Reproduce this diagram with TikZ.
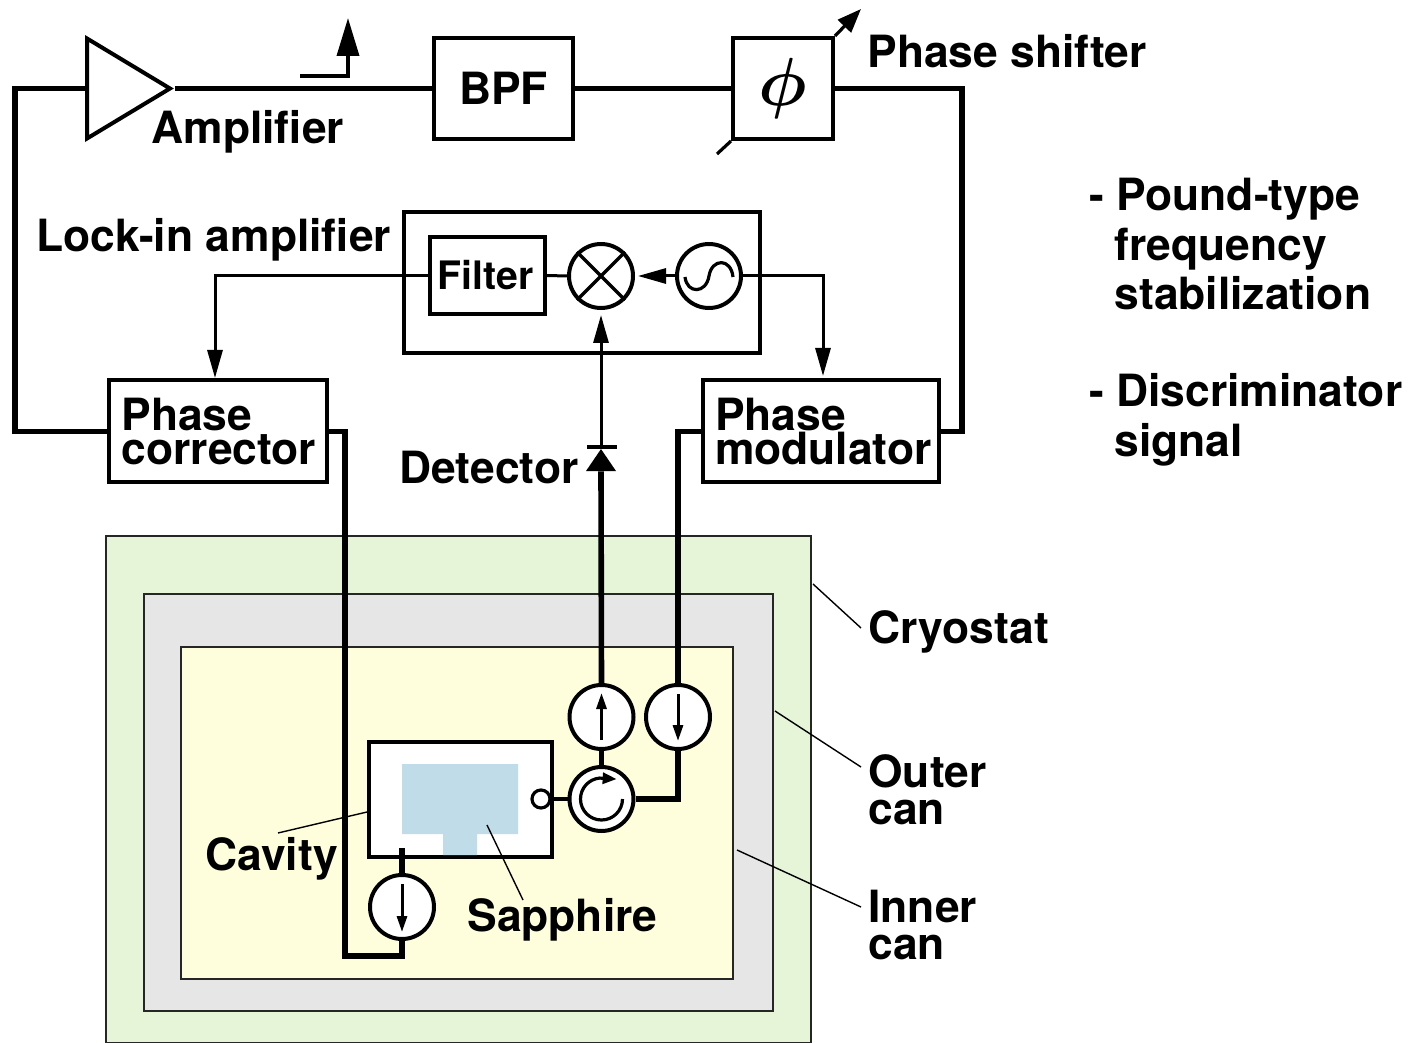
\documentclass[tikz,border=0pt]{standalone}
\usepackage{fix-cm}
\usepackage{fontspec}
\setmainfont{TeX Gyre Heros}[BoldFont=* Bold]
\usetikzlibrary{arrows.meta,calc,shapes.geometric}
\definecolor{clrCryo}{RGB}{230,244,216}
\definecolor{clrOuter}{RGB}{230,230,230}
\definecolor{clrInner}{RGB}{254,253,220}
\definecolor{clrSapph}{RGB}{192,220,232}
\newcommand{\lblfont}{\fontsize{22.2}{17.4}\selectfont\bfseries}
\tikzset{
  canbox/.style={rectangle,draw=black!85,line width=0.8pt,inner sep=0pt},
  unit/.style={rectangle,draw,fill=white,line width=2pt,inner sep=0pt,font=\lblfont},
  twoline/.style={unit,align=left,anchor=center},
  roundel/.style={circle,draw,fill=white,line width=2pt,inner sep=0pt,minimum size=32pt},
  lbl/.style={font=\lblfont,inner sep=0pt,anchor=base west},
  lblcan/.style={font=\fontsize{22.2}{18.6}\selectfont\bfseries,inner sep=0pt,anchor=north west,align=left},
  note/.style={font=\fontsize{22.2}{24.8}\selectfont\bfseries,inner sep=0pt,anchor=north west,align=left},
  rf/.style={line width=2.8pt},
  sig/.style={line width=1.5pt},
  sigarrow/.style={sig,-{Triangle[length=14pt,width=7.5pt]}},
  inarrow/.style={line width=1.5pt,-{Triangle[length=8pt,width=5pt]}},
  leader/.style={line width=0.7pt}
}
\begin{document}
\begin{tikzpicture}[x=0.5pt,y=-0.5pt]
  \useasboundingbox (0,0) rectangle (1410,1043);
  \node[canbox,fill=clrCryo,minimum width=352.5pt,minimum height=253.5pt] (cryo) at (458.5,789.5) {};
  \node[canbox,fill=clrOuter,minimum width=314.5pt,minimum height=208.5pt] (outer) at (458.5,802.5) {};
  \node[canbox,fill=clrInner,minimum width=276pt,minimum height=166pt] (inner) at (457,813) {};

  \node[isosceles triangle,isosceles triangle stretches,draw,fill=white,line width=2pt,inner sep=0pt,
    minimum height=41.5pt,minimum width=50pt,anchor=west] (amp) at (85,88.5) {};
  \node[unit,minimum width=69.5pt,minimum height=50.5pt] (bpf) at (503.5,88.5) {BPF};
  \node[unit,minimum width=50pt,minimum height=50.5pt,font=\fontsize{34}{34}\selectfont\boldmath] (phi) at (783,88.5) {$\phi$};
  \node[unit,minimum width=178pt,minimum height=70.5pt] (lockin) at (582,282.5) {};
  \node[unit,minimum width=57.5pt,minimum height=38.5pt,font=\fontsize{19.6}{20}\selectfont\bfseries] (filter) at (487.5,275.5) {Filter\hspace*{2pt}};
  \node[roundel] (mix) at (601,276) {};
  \node[roundel] (osc) at (709,276) {};
  \node[twoline,text width=96pt,inner xsep=6.5pt,minimum height=51pt] (corr) at (217.5,431.5) {Phase\\corrector};
  \node[twoline,text width=106pt,inner xsep=6pt,minimum height=51pt] (mod) at (821,431.5) {Phase\\modulator};
  \node[isosceles triangle,isosceles triangle stretches,shape border rotate=90,fill=black,inner sep=0pt,
    minimum height=11pt,minimum width=15pt,anchor=apex] (diode) at (601,448) {};
  \coordinate (barL) at (587,447);
  \coordinate (barR) at (617,447);
  \coordinate (corrIn) at (215,380);
  \coordinate (modIn) at (823,380);

  \node[rectangle,draw,fill=white,line width=2pt,minimum width=91.5pt,minimum height=57.5pt,inner sep=0pt] (cavity) at (460.5,799.5) {};
  \fill[clrSapph] (402,764) rectangle (518,834) (443,834) rectangle (477,855);
  \node[circle,draw,fill=white,line width=1.6pt,inner sep=0pt,minimum size=9pt] (port) at (541,799) {};
  \node[roundel] (circ) at (601.5,799) {};
  \node[roundel] (isoup) at (601.5,717) {};
  \node[roundel] (isodn) at (678,717) {};
  \node[roundel] (isolow) at (402,907) {};
  \coordinate (feed) at (402,848);
  \coordinate (loopL) at (15,88.5);
  \coordinate (loopR) at (962,431.5);
  \coordinate (turn) at (345,956);

  \draw[rf] (amp.west) -- (loopL) |- (corr.west);
  \draw[rf] (amp.apex) -- (bpf.west);
  \draw[rf] (bpf.east) -- (phi.west);
  \draw[rf] (phi.east) -| (loopR) -- (mod.east);
  \draw[rf] (corr.east) -| (turn) -| (isolow.south);
  \draw[rf] (feed) -- (isolow.north);
  \draw[rf] (mod.west) -| (isodn.north);
  \draw[rf] (circ.east) -| (isodn.south);
  \draw[rf] (circ.north) -- (isoup.south);
  \draw[rf] (isoup.north) -- (diode.south);
  \draw[line width=2pt] (port.east) -- (circ.west);

  \draw[sig] (filter.east) -- (mix.west);
  \draw[sigarrow,shorten >=1pt] (filter.west) -| (corrIn);
  \draw[sigarrow,shorten >=2pt] (osc.east) -| (modIn);
  \draw[sigarrow,shorten >=1.5pt] (osc.west) -- (mix.east);
  \draw[sigarrow,shorten >=2.5pt] (diode.apex) -- (mix.south);
  \draw[line width=1.8pt] (barL) -- (barR);

  \draw[line width=1.6pt] (mix.north west) -- (mix.south east);
  \draw[line width=1.6pt] (mix.north east) -- (mix.south west);
  \begin{scope}[shift={(osc.center)}]
    \draw[line width=1.6pt] (-24,1) .. controls (-22,18) and (-3,18) .. (0,0)
      .. controls (3,-18) and (22,-18) .. (24,1);
  \end{scope}
  \draw[line width=1.6pt,-{Triangle[length=7pt,width=5.5pt]}] ($(circ.center)+(21,0)$)
    arc[start angle=0,end angle=-265,radius=10.5pt] -- ++(17,1);
  \draw[inarrow] ($(isoup.center)+(0,23)$) -- ($(isoup.center)+(0,-24)$);
  \draw[inarrow] ($(isodn.center)+(0,-23)$) -- ($(isodn.center)+(0,24)$);
  \draw[inarrow] ($(isolow.center)+(0,-23)$) -- ($(isolow.center)+(0,25)$);

  \coordinate (rampS) at (300,76);
  \coordinate (rampC) at (348,76);
  \coordinate (rampE) at (348,18);
  \draw[line width=1.8pt,-{Triangle[length=19pt,width=11pt]}] (rampS) -- (rampC) -- (rampE);
  \coordinate (trimT) at (861,9);
  \coordinate (trimB) at (717,154);
  \draw[line width=1.6pt,-{Triangle[length=12pt,width=9pt]}] (phi.north east) -- (trimT);
  \draw[line width=1.6pt] (phi.south west) -- (trimB);

  \node[lbl] (amplbl) at (151,144) {Amplifier};
  \node[lbl] (shiftlbl) at (867,68) {Phase shifter};
  \node[lbl] (locklbl) at (36,252) {Lock-in amplifier};
  \node[lbl] (detlbl) at (399,484) {Detector};
  \node[lbl] (cryolbl) at (868,643) {Cryostat};
  \node[lblcan] (outerlbl) at (868,754) {Outer\\can};
  \node[lblcan] (innerlbl) at (868,890) {Inner\\can};
  \node[lbl] (cavlbl) at (205,870) {Cavity};
  \node[lbl] (sapplbl) at (467,931) {Sapphire};
  \node[note] (note1) at (1089,178) {- Pound-type\\\hspace*{12.5pt}frequency\\\hspace*{12.5pt}stabilization};
  \node[note] (note2) at (1089,373.5) {- Discriminator\\\hspace*{12.5pt}signal};

  \coordinate (cryoT) at (813,584);
  \coordinate (cryoE) at (861,628);
  \coordinate (outerT) at (775,711);
  \coordinate (outerE) at (861,767);
  \coordinate (innerT) at (737,850);
  \coordinate (innerE) at (861,907);
  \coordinate (cavE) at (278,833);
  \coordinate (sappT) at (487,825);
  \coordinate (sappE) at (523,900);
  \draw[leader] (cryoT) -- (cryoE);
  \draw[leader] (outerT) -- (outerE);
  \draw[leader] (innerT) -- (innerE);
  \draw[leader] (cavE) -- (cavity.west |- 0,812);
  \draw[leader] (sappT) -- (sappE);
\end{tikzpicture}
\end{document}
